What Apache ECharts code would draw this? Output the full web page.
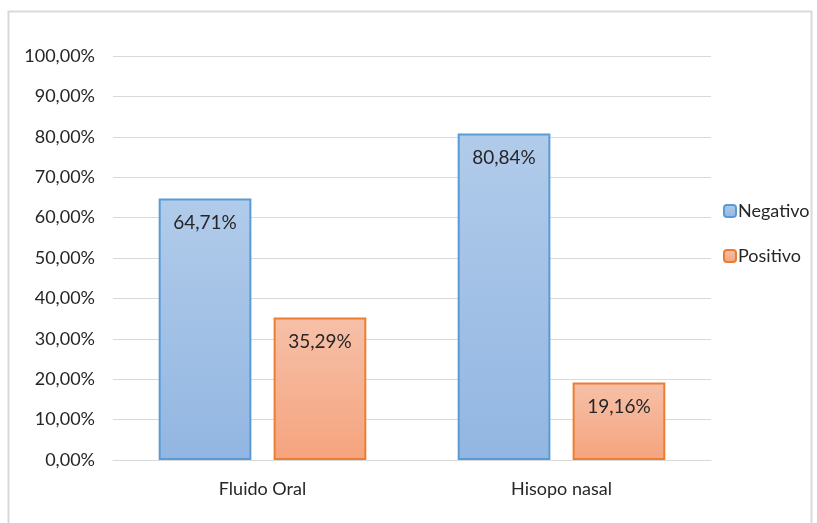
<!DOCTYPE html>
<html>
<head>
<meta charset="utf-8">
<script src="https://cdn.jsdelivr.net/npm/echarts@6/dist/echarts.min.js"></script>
<style>
  html, body { margin: 0; padding: 0; background: #fff; }
  #myChart { width: 817px; height: 523px; }
</style>
</head>
<body>
<div id="myChart"></div>
<script>
// datos del gráfico
const categorias = ['Fluido Oral', 'Hisopo nasal']
const negativo = [64.71, 80.84]
const positivo = [35.29, 19.16]

const fmt = v => v.toFixed(2).replace('.', ',') + '%'

const grad = (top, bottom) => new echarts.graphic.LinearGradient(0, 0, 0, 1, [
  { offset: 0, color: top },
  { offset: 1, color: bottom }
])

const etiqueta = {
  show: true,
  position: 'insideTop',
  distance: 15,
  fontSize: 19,
  color: '#262626',
  fontFamily: 'Lato',
  formatter: p => fmt(p.value)
}

let myChart = echarts.init(document.getElementById('myChart'))
myChart.setOption({
  backgroundColor: '#fff',
  animation: false,
  graphic: [{
    type: 'rect',
    shape: { x: 8.5, y: 11.5, width: 803, height: 530 },
    style: { fill: 'none', stroke: '#d9d9d9', lineWidth: 2 }
  }],
  grid: { left: 113, right: 106, top: 56, bottom: 63 },
  legend: {
    orient: 'vertical',
    left: 718,
    top: 197,
    itemGap: 27,
    itemWidth: 12,
    itemHeight: 12,
    textStyle: { fontSize: 18, color: '#262626', fontFamily: 'Lato', padding: [0, 0, 0, -3] },
    data: ['Negativo', 'Positivo']
  },
  xAxis: {
    type: 'category',
    data: categorias,
    axisLine: { lineStyle: { color: '#d9d9d9', width: 1 } },
    axisTick: { show: false },
    axisLabel: { fontSize: 18, color: '#262626', fontFamily: 'Lato', margin: 20 }
  },
  yAxis: {
    type: 'value',
    min: 0,
    max: 100,
    interval: 10,
    axisLine: { show: false },
    axisTick: { show: false },
    splitLine: { lineStyle: { color: '#d9d9d9' } },
    axisLabel: { fontSize: 18, color: '#262626', fontFamily: 'Lato', margin: 18, formatter: fmt }
  },
  series: [
    {
      name: 'Negativo',
      type: 'bar',
      data: negativo,
      barWidth: '31%',
      barGap: '24%',
      itemStyle: { color: grad('#b1cbea', '#92b6e2'), borderColor: '#5b9bd5', borderWidth: 2 },
      label: etiqueta
    },
    {
      name: 'Positivo',
      type: 'bar',
      data: positivo,
      barWidth: '31%',
      itemStyle: { color: grad('#f6c0a8', '#f5a47e'), borderColor: '#ed7d31', borderWidth: 2 },
      label: etiqueta
    }
  ]
})
</script>
</body>
</html>
